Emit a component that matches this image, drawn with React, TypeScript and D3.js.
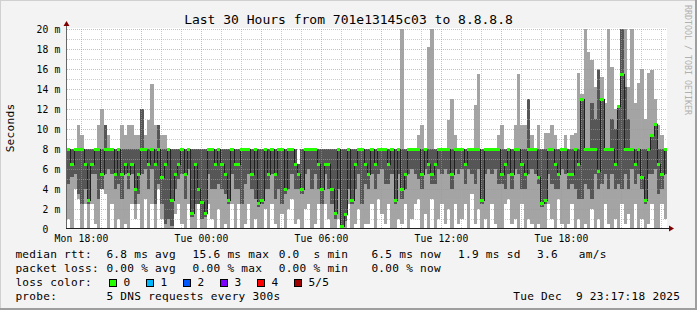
import React from "react";
import * as d3 from "d3";

const WIDTH = 697;
const HEIGHT = 310;

const startTime = new Date(2025, 11, 8, 17, 17, 18);
const endTime = new Date(2025, 11, 9, 23, 17, 18);
const stepMinutes = 10;

const yTickValues = [0, 2, 4, 6, 8, 10, 12, 14, 16, 18, 20];
const yTickLabels = ["0  ", "2 m", "4 m", "6 m", "8 m", "10 m", "12 m", "14 m", "16 m", "18 m", "20 m"];
const yMinorValues = [1, 3, 5, 7, 9, 11, 13, 15, 17, 19];

// median rtt (ms) per 10-minute step
const medianRtt = [
  8, 6.5, 8, 8, 8, 6.5, 2.9, 6.5, 8, 8,
  5.5, 8, 8, 8, 5.5, 8, 5.5, 6.5, 5.5, 6.5,
  4, 5.5, 8, 8, 6.5, 8, 6.5, 8, 5.2, 6.5,
  8, 2.9, 5.5, 6.5, 8, 5.5, 8, 1.6, 6.5, 4,
  2.7, 1.6, 8, 8, 6.5, 8, 6.5, 5.5, 2.9, 8,
  6.5, 6.5, 8, 8, 8, 5.5, 8, 2.6, 2.9, 8,
  5.5, 8, 5.5, 8, 8, 4, 8, 8, 6.5, 5.5,
  4, 8, 8, 8, 8, 6.5, 4, 6.5, 6.5, 4,
  1.6, 8, 0.3, 1.5, 8, 2.9, 6.5, 8, 8, 6.5,
  5.5, 8, 6.5, 8, 8, 8, 6.5, 8, 2.9, 8,
  4, 5.5, 8, 8, 8, 8, 5.5, 8, 6.5, 5.5,
  6.5, 8, 8, 8, 8, 5.5, 8, 8, 8, 6.5,
  8, 8, 8, 8, 2.9, 8, 8, 8, 8, 8,
  5.5, 6.5, 8, 5.5, 8, 8, 6.5, 5.5, 8, 8,
  8, 5.2, 2.6, 2.9, 8, 8, 6.5, 5.5, 8, 8,
  5.5, 5.5, 8, 6.5, 13, 8, 8, 8, 8, 5.8,
  13, 8, 8, 8, 6.5, 12.3, 15.5, 8, 8, 8,
  6.5, 8, 5.2, 2.9, 8, 9.4, 10.5, 6.5, 5.5, 8,
];

// slowest ping (ms)
const pingMax = [
  8, 8, 8, 10.4, 9.4, 8, 8, 8, 8, 10.4,
  12, 10.4, 9.4, 8, 8, 8, 10.4, 9.4, 10.4, 10.4,
  9.4, 9.4, 12, 9.4, 10.9, 14.5, 10.4, 10.4, 9.4, 9.4,
  8, 8, 8, 8, 8, 8, 8, 8, 8, 8,
  8, 8, 8, 8, 8, 8, 8, 8, 8, 8,
  8, 8, 8, 8, 8, 8, 8, 8, 8, 8,
  8, 8, 8, 8, 8, 8, 8, 8, 8, 6.5,
  8, 8, 8, 8, 8, 8, 8, 8, 8, 8,
  8, 8, 8, 8, 8, 8, 8, 8, 8, 8,
  8, 8, 8, 8, 8, 8, 8, 8, 8, 8,
  20, 8, 8, 8, 8, 9.4, 10.4, 8, 18.2, 20,
  8, 8, 8, 8, 10.9, 13, 9.4, 8, 8, 8,
  8, 8, 12.4, 15.5, 8, 8, 8, 8, 8, 9.4,
  10.4, 8, 8, 8, 10.4, 15.5, 10.4, 10.4, 13, 9.4,
  8, 10.4, 8, 9.6, 9.6, 10.4, 9.4, 8, 8, 9.4,
  8, 9.4, 9.6, 15.6, 13.5, 20, 17.7, 16.9, 14.2, 16,
  15.2, 12.6, 20, 16.2, 12, 10.9, 20, 20, 14.2, 20,
  12.6, 14.6, 16, 11, 15.6, 15.9, 13, 10.4, 9.4, 8,
];

// 4th ping (ms), top of the dark smoke
const pingUpper = [
  8, 8, 8, 8, 8, 8, 8, 8, 8, 8,
  8, 10.4, 8, 8, 8, 8, 8, 8, 8, 8,
  8, 8, 12, 8, 8, 8, 8, 10.4, 8, 8,
  8, 8, 8, 8, 8, 8, 8, 8, 8, 8,
  8, 8, 8, 8, 8, 8, 8, 8, 8, 8,
  8, 8, 8, 8, 8, 8, 8, 8, 8, 8,
  8, 8, 8, 8, 8, 8, 8, 8, 8, 6.5,
  8, 8, 8, 8, 8, 8, 8, 8, 8, 8,
  8, 8, 8, 8, 8, 8, 8, 8, 8, 8,
  8, 8, 8, 8, 8, 8, 8, 8, 8, 8,
  8, 8, 8, 8, 8, 8, 8, 8, 8, 8,
  8, 8, 8, 8, 8, 8, 8, 8, 8, 8,
  8, 8, 8, 8, 8, 8, 8, 8, 8, 8,
  8, 8, 8, 8, 8, 8, 8, 8, 13, 8,
  8, 8, 8, 8, 8, 8, 8, 8, 8, 8,
  8, 8, 8, 8, 13, 8, 8, 12.6, 11, 15.9,
  13, 8, 8, 11, 10, 12.3, 20, 14.2, 11, 8,
  8, 8, 8, 8, 8, 9.5, 10.5, 8, 8, 8,
];

// 2nd ping (ms), bottom of the dark smoke
const pingLower = [
  4.5, 5.2, 5.5, 3.5, 2.5, 4, 2.5, 5.5, 5.5, 3,
  4, 5.5, 6, 5.5, 4, 4.5, 3, 5.5, 4, 5.5,
  2.5, 3.5, 5.5, 6, 4, 6, 2.5, 4.5, 2.5, 0.5,
  1, 0.3, 4, 5, 5.5, 3, 6, 1.2, 2.5, 2.5,
  1, 1.2, 5.5, 4, 4, 4.5, 4, 3.5, 2.5, 5.5,
  4, 4, 2.5, 4.5, 5.5, 4, 3, 2.2, 2.5, 4,
  4, 5.5, 3, 4, 2.5, 3.5, 4, 5.5, 4, 4,
  3.5, 5.5, 6, 4, 5.5, 4, 2.5, 5.5, 4, 2.5,
  1, 4, 0.1, 0.8, 4, 2.5, 4, 5.5, 2.5, 4.5,
  4, 5.5, 4, 5.5, 6, 4.5, 4.5, 5.5, 2.5, 5.5,
  3, 4, 5.5, 6, 5.5, 5, 4, 6, 5.5, 4.5,
  4.5, 6, 5.5, 6, 5.5, 4, 6, 5.5, 6, 4.5,
  6, 5.5, 4.5, 6, 2.5, 5.5, 6, 5.5, 6, 4.5,
  4.5, 4, 5.5, 4, 6, 5.5, 4, 4, 5.5, 6,
  5.5, 4.5, 2.2, 2.5, 5.5, 4.5, 4, 4, 6, 5.5,
  4, 4.5, 4, 3, 3, 4.5, 4, 3, 5.5, 4,
  4.5, 5.5, 4, 5.5, 4, 4.5, 4, 5.5, 4, 6,
  4.5, 5.5, 4, 2.5, 5.5, 5.5, 6, 3.5, 4, 5.5,
];

// fastest ping (ms)
const pingMin = [
  1, 0, 4, 3, 0, 2.5, 0, 2.5, 0.5, 0,
  4, 3.5, 0, 2.5, 0, 1, 0, 0.5, 0, 2.5,
  1, 2.5, 0, 3, 0, 2.5, 0, 4, 1, 0,
  0, 0, 1.5, 2.5, 0.5, 0, 2.5, 0, 0, 2.5,
  0, 0, 2.5, 1, 0, 2, 0, 0.5, 0, 2.5,
  0, 2.5, 0, 0.5, 2.5, 0, 1, 0, 0, 2,
  0, 2.5, 0.5, 0, 1.5, 0, 2, 3, 0.5, 1,
  0, 2, 2.5, 0, 0.5, 2.5, 0, 2.5, 1, 0,
  0, 1, 0, 0, 2.5, 0, 0.5, 2, 0, 0.5,
  0.5, 2.5, 0, 3, 1.5, 0.5, 2.5, 0, 0, 1,
  0.5, 2.5, 0, 1, 2.5, 3, 0, 1.5, 0, 3,
  0, 1, 2.5, 0.5, 2, 0, 2.5, 0.5, 1, 2.5,
  0, 3.5, 0.5, 2, 0, 1, 0, 2.5, 0.5, 0,
  0, 2.5, 3, 0.5, 1, 0, 2.5, 0, 1, 0.5,
  0, 0.5, 0, 0, 2.5, 1, 0, 3, 0.5, 0,
  0.5, 2.5, 0, 1, 0, 0.5, 0, 2, 0, 1,
  0, 2.5, 0.5, 0, 1, 0, 2.5, 0.5, 1.5, 0,
  2.5, 0, 1, 0, 0.5, 2.5, 0, 0, 2.5, 1,
];

const titleText = "Last 30 Hours from 701e13145c03 to 8.8.8.8";
const legendRow1 = ["median rtt:", "6.8 ms avg", "15.6 ms max", "0.0  s min", "6.5 ms now", "1.9 ms sd", "3.6   am/s"];
const legendRow2 = ["packet loss:", "0.00 % avg", "0.00 % max", "0.00 % min", "0.00 % now"];
const lossColors = ["#26ff00", "#00b8ff", "#0059ff", "#7e00ff", "#ff0000", "#a00000"];
const lossLabels = ["0", "1", "2", "3", "4", "5/5"];
const probeText = "5 DNS requests every 300s";
const dateText = "Tue Dec  9 23:17:18 2025";

const MONO = "'DejaVu Sans Mono', monospace";

export default function App() {
  const plotL = 67;
  const plotR = 667;
  const plotT = 29;
  const plotB = 229;
  const x = d3.scaleTime().domain([startTime, endTime]).range([plotL, plotR]);
  const y = d3.scaleLinear().domain([0, 20]).range([plotB, plotT]).clamp(true);
  const n = medianRtt.length;
  const colX = (i: number) => Math.round(x(d3.timeMinute.offset(startTime, i * stepMinutes)));

  const hours = d3.timeHour.range(d3.timeHour.ceil(startTime), endTime);
  const fmt = d3.timeFormat("%a %H:%M");

  const pts: [number, number][] = medianRtt.map((v, i) => [colX(i), Math.round(y(v)) + 0.5]);
  pts.push([colX(n), Math.round(y(medianRtt[n - 1])) + 0.5]);
  const medianPath = d3.line().curve(d3.curveStepAfter)(pts) || "";

  const legendX = [15.4, 106.4, 192.6, 278.7, 371.4, 458, 537.1];
  const legendY = [258.3, 272.3, 286.3, 300.3];
  const lf = { fontFamily: MONO, fontSize: 11.1, letterSpacing: 0.28 };

  return (
    <svg
      width={WIDTH}
      height={HEIGHT}
      viewBox={`0 0 ${WIDTH} ${HEIGHT}`}
      style={{ position: "absolute", left: 0, top: 0, display: "block" }}
    >
      <rect x={0} y={0} width={WIDTH} height={HEIGHT} fill="#f3f3f3" />
      <line x1={0} y1={0.5} x2={WIDTH} y2={0.5} stroke="#d0d0d0" />
      <line x1={0.5} y1={0} x2={0.5} y2={HEIGHT} stroke="#d0d0d0" />
      <rect x={WIDTH - 2} y={0} width={2} height={HEIGHT} fill="#9e9e9e" />
      <rect x={0} y={HEIGHT - 2} width={WIDTH} height={2} fill="#9e9e9e" />

      <text x={348.5} y={23.5} textAnchor="middle" style={{ fontFamily: MONO, fontSize: 13 }} fill="#000">
        {titleText}
      </text>

      <text transform="translate(685,5) rotate(90)" style={{ fontFamily: MONO, fontSize: 8.3 }} fill="#b0b0b0">
        RRDTOOL / TOBI OETIKER
      </text>

      <text transform="translate(14,128) rotate(-90)" textAnchor="middle" style={lf} fill="#000">
        Seconds
      </text>

      <rect x={plotL} y={plotT - 1} width={plotR - plotL} height={plotB - plotT + 1} fill="#ffffff" />

      <g shapeRendering="crispEdges">
        {medianRtt.map((_, i) => {
          const x0 = colX(i);
          const x1 = colX(i + 1);
          const lo = Math.min(pingMin[i], pingLower[i]);
          return (
            <g key={i}>
              <rect x={x0} y={y(pingMax[i])} width={x1 - x0} height={y(lo) - y(pingMax[i])} fill="#a4a4a4" />
              <rect
                x={x0}
                y={y(pingUpper[i])}
                width={x1 - x0}
                height={y(pingLower[i]) - y(pingUpper[i])}
                fill="#565656"
              />
            </g>
          );
        })}
        <path d={medianPath} fill="none" stroke="#202020" strokeWidth={1} />
        {medianRtt.map((v, i) => (
          <rect
            key={"g" + i}
            x={colX(i)}
            y={Math.round(y(v)) - 1}
            width={colX(i + 1) - colX(i)}
            height={3}
            fill={lossColors[0]}
          />
        ))}
      </g>

      <g shapeRendering="crispEdges" strokeDasharray="1,1" strokeWidth={1}>
        {yMinorValues.map((v) => (
          <line key={"ym" + v} x1={plotL} x2={plotR} y1={Math.round(y(v)) + 0.5} y2={Math.round(y(v)) + 0.5} stroke="rgba(170,170,170,0.6)" />
        ))}
        {hours
          .filter((h) => h.getHours() % 3 !== 0)
          .map((h) => (
            <line key={"xm" + h.getTime()} x1={Math.round(x(h)) + 0.5} x2={Math.round(x(h)) + 0.5} y1={plotT} y2={plotB} stroke="rgba(170,170,170,0.6)" />
          ))}
        {yTickValues
          .filter((v) => v > 0)
          .map((v) => (
            <line key={"yM" + v} x1={plotL} x2={plotR} y1={Math.round(y(v)) + 0.5} y2={Math.round(y(v)) + 0.5} stroke="rgba(255,110,110,0.6)" />
          ))}
        {hours
          .filter((h) => h.getHours() % 3 === 0)
          .map((h) => (
            <line key={"xM" + h.getTime()} x1={Math.round(x(h)) + 0.5} x2={Math.round(x(h)) + 0.5} y1={plotT} y2={plotB} stroke="rgba(255,110,110,0.6)" />
          ))}
      </g>

      <g shapeRendering="crispEdges">
        <line x1={plotL - 0.5} x2={plotL - 0.5} y1={plotB} y2={25} stroke="#666" />
        <line x1={plotL - 1} x2={plotR + 2} y1={plotB - 0.5} y2={plotB - 0.5} stroke="#222" />
      </g>
      <path d={`M${plotL - 3.5},26 L${plotL - 0.5},21 L${plotL + 2.5},26 Z`} fill="#7f0000" />
      <path d={`M${plotR + 2},${plotB - 3.5} L${plotR + 7},${plotB - 0.5} L${plotR + 2},${plotB + 2.5} Z`} fill="#7f0000" />

      <g style={{ fontFamily: MONO, fontSize: 9.7, letterSpacing: 0.15 }} fill="#000">
        {yTickValues.map((v, k) => (
          <text key={"yl" + v} x={60.5} y={Math.round(y(v)) + 3.8} textAnchor="end" xmlSpace="preserve">
            {yTickLabels[k]}
          </text>
        ))}
        {hours
          .filter((h) => h.getHours() % 6 === 0)
          .map((h) => (
            <text key={"xl" + h.getTime()} x={Math.round(x(h)) + 0.5} y={241.5} textAnchor="middle">
              {fmt(h)}
            </text>
          ))}
      </g>

      <g style={lf} fill="#000">
        {legendRow1.map((s, k) => (
          <text key={"l1" + k} x={legendX[k]} y={legendY[0]} xmlSpace="preserve">
            {s}
          </text>
        ))}
        {legendRow2.map((s, k) => (
          <text key={"l2" + k} x={legendX[k]} y={legendY[1]} xmlSpace="preserve">
            {s}
          </text>
        ))}
        <text x={legendX[0]} y={legendY[2]}>
          loss color:
        </text>
        {lossColors.map((c, k) => (
          <g key={"lc" + k}>
            <rect x={109 + k * 37} y={279} width={7} height={7} fill={c} stroke="#000" strokeWidth={1} shapeRendering="crispEdges" />
            <text x={123.4 + k * 37} y={legendY[2]}>
              {lossLabels[k]}
            </text>
          </g>
        ))}
        <text x={legendX[0]} y={legendY[3]}>
          probe:
        </text>
        <text x={legendX[1]} y={legendY[3]} xmlSpace="preserve">
          {probeText}
        </text>
        <text x={680.3} y={legendY[3]} textAnchor="end" xmlSpace="preserve">
          {dateText}
        </text>
      </g>
    </svg>
  );
}
